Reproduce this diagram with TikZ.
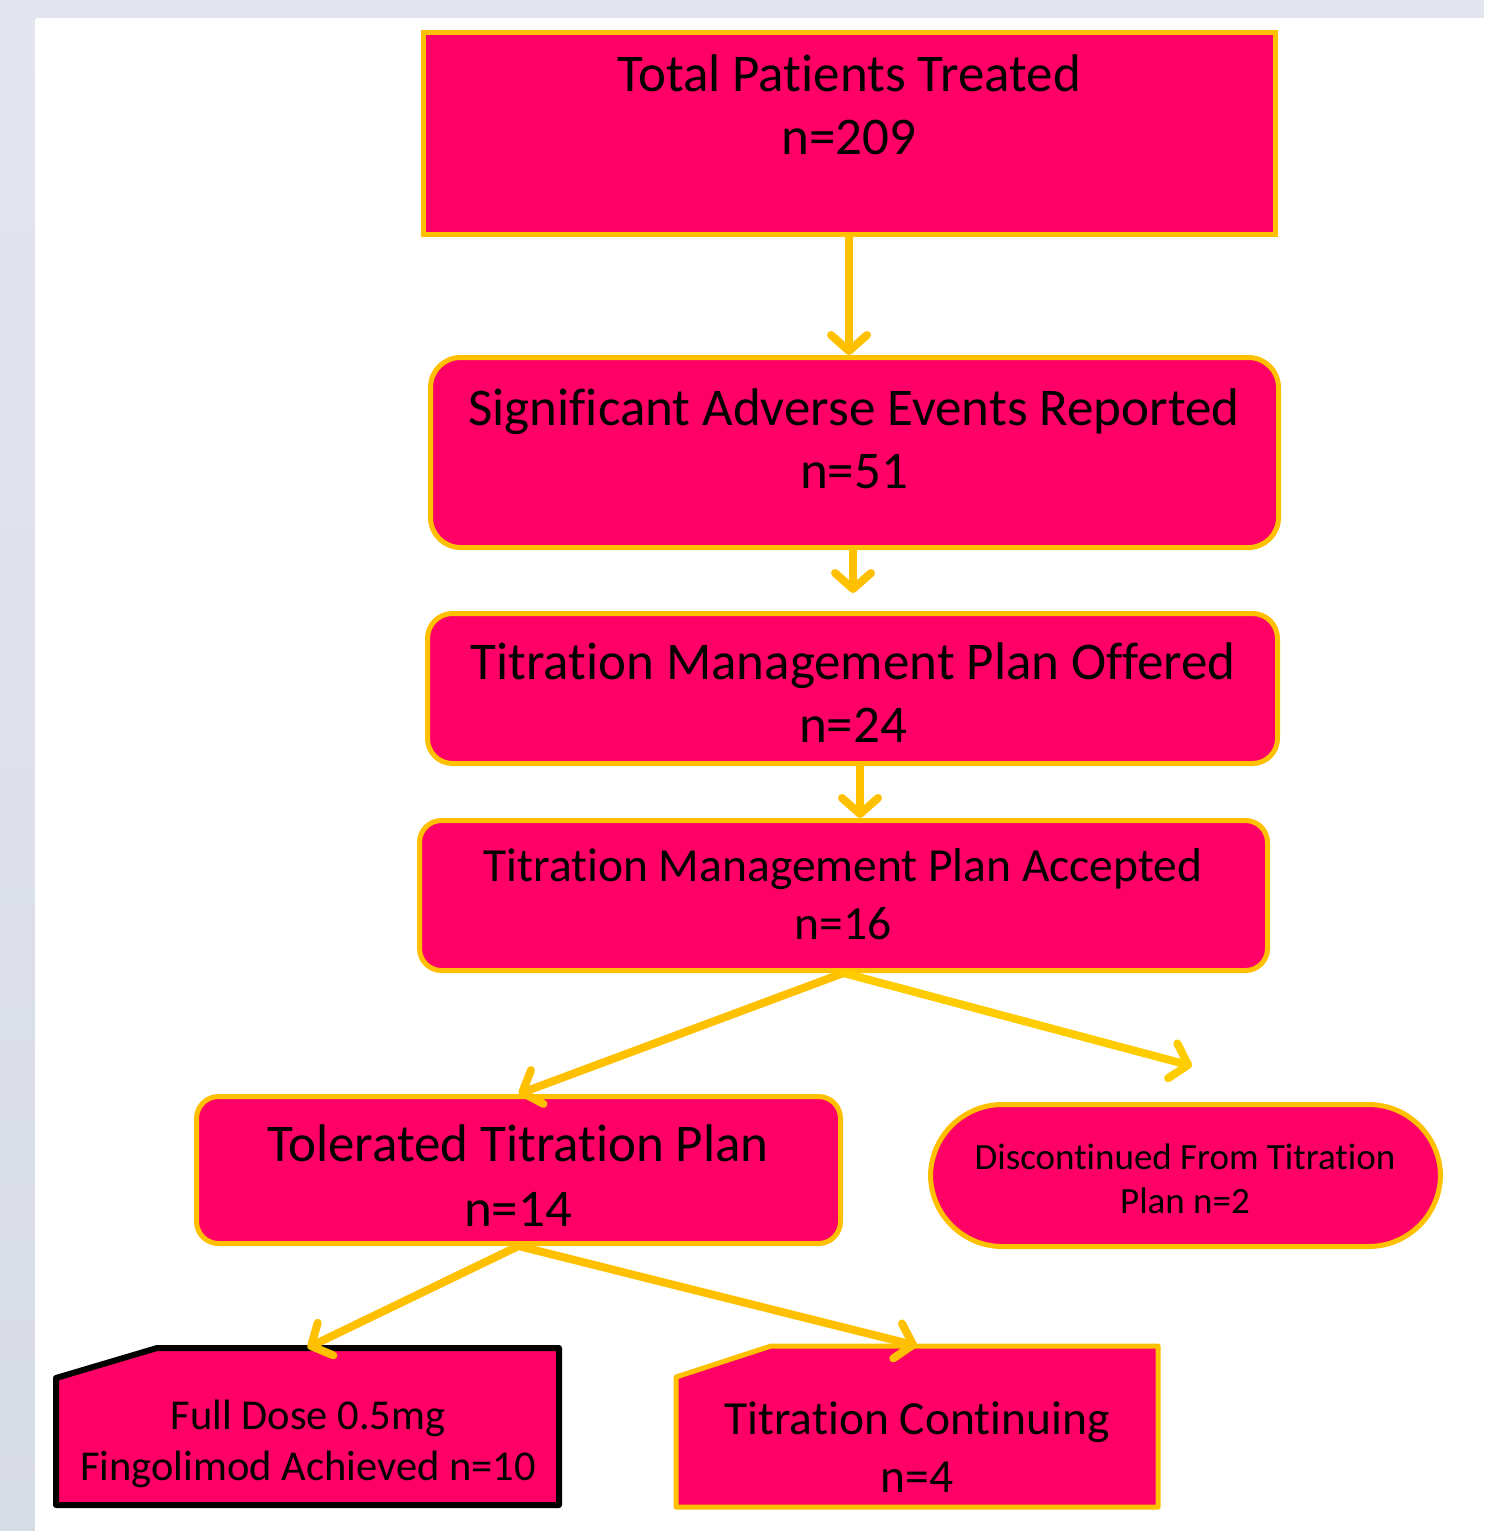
\documentclass[tikz,border=0pt]{standalone}
\usepackage{fontspec}
\setmainfont{Carlito}[Ligatures=CommonOff]
\usetikzlibrary{arrows.meta}
\definecolor{pinkfill}{HTML}{FF0066}
\definecolor{gold}{HTML}{FFC000}
\definecolor{goldb}{HTML}{FFCC00}
\definecolor{bgA}{HTML}{E4E6EF}
\definecolor{bgB}{HTML}{D7DBE5}
\begin{document}
\begin{tikzpicture}[x=1pt,y=-1pt,
  box/.style={draw=gold, line width=5pt, fill=pinkfill, inner sep=0pt},
  ghost/.style={inner sep=0pt},
  lbl/.style={align=center, inner sep=0pt, text=black},
  conn/.style={draw=gold, line width=8pt, line cap=round, -{Straight Barb[length=16pt,width=36pt,round]}},
]
\useasboundingbox (0,0) rectangle (1484,1531);
\fill[bgA] (0,0) rectangle (1484,1531);
\shade[top color=bgA, bottom color=bgB] (0,0) rectangle (35,1531);
\fill[white, rounded corners=3pt] (35,18) rectangle (1500,1550);

% boxes
\node[box, minimum width=852, minimum height=202] (tot) at (849.5,133.5) {};
\node[box, rounded corners=30pt, minimum width=848, minimum height=190] (sae) at (854.5,452.5) {};
\node[box, rounded corners=25pt, minimum width=850, minimum height=150] (off) at (852.5,688.5) {};
\node[box, rounded corners=22pt, minimum width=848, minimum height=150] (acc) at (843.5,895.5) {};
\node[box, rounded corners=22pt, minimum width=644, minimum height=147] (tol) at (518.5,1170) {};
\node[box, rounded corners=72pt, minimum width=510, minimum height=142] (dis) at (1185.5,1175.5) {};
\node[ghost, minimum width=503, minimum height=157] (full) at (307.5,1426.5) {};
\node[ghost, minimum width=482, minimum height=161] (cont) at (917,1426.5) {};
\fill[pinkfill, draw=black, line width=6pt, line join=round] (56,1378) -- (157,1348) -- (559,1348) -- (559,1505) -- (56,1505) -- cycle;
\fill[pinkfill, draw=gold, line width=5pt, line join=round] (676,1377) -- (771,1346) -- (1158,1346) -- (1158,1507) -- (676,1507) -- cycle;

% labels
\node[lbl, font=\fontsize{53}{63}\selectfont] (totT) at (849,104.5) {Total Patients Treated\\n=209};
\node[lbl, font=\fontsize{53}{63}\selectfont] (saeT) at (854,439) {Significant Adverse Events Reported\\n=51};
\node[lbl, font=\fontsize{53}{63}\selectfont] (offT) at (853,693) {Titration Management Plan Offered\\n=24};
\node[lbl, font=\fontsize{47.5}{58}\selectfont] (accT) at (843,894) {Titration Management Plan Accepted\\n=16};
\node[lbl, font=\fontsize{53}{65}\selectfont] (tolT) at (518,1176) {Tolerated Titration Plan\\n=14};
\node[lbl, font=\fontsize{37}{44}\selectfont] (disT) at (1185,1178.5) {Discontinued From Titration\\Plan n=2};
\node[lbl, font=\fontsize{42.5}{51}\selectfont] (fullT) at (308,1443.5) {Full Dose 0.5mg\\Fingolimod Achieved n=10};
\node[lbl, font=\fontsize{47.5}{58}\selectfont] (contT) at (917,1447) {Titration Continuing\\n=4};

% free ends
\coordinate (c12) at (849,0);
\coordinate (e23) at (853,593);
\coordinate (c34) at (860,0);
\coordinate (e4d) at (1192,1066);

% connectors
\draw[conn] (tot.south -| c12) -- (sae.north -| c12);
\draw[conn] (sae.south -| e23) -- (e23);
\draw[conn] (off.south -| c34) -- (acc.north -| c34);
\draw[conn] (acc.south) -- (tol.north);
\draw[conn, draw=goldb] (acc.south) -- (e4d);
\draw[conn] (tol.south) -- (full.north);
\draw[conn] (tol.south) -- (cont.north);
\end{tikzpicture}
\end{document}
